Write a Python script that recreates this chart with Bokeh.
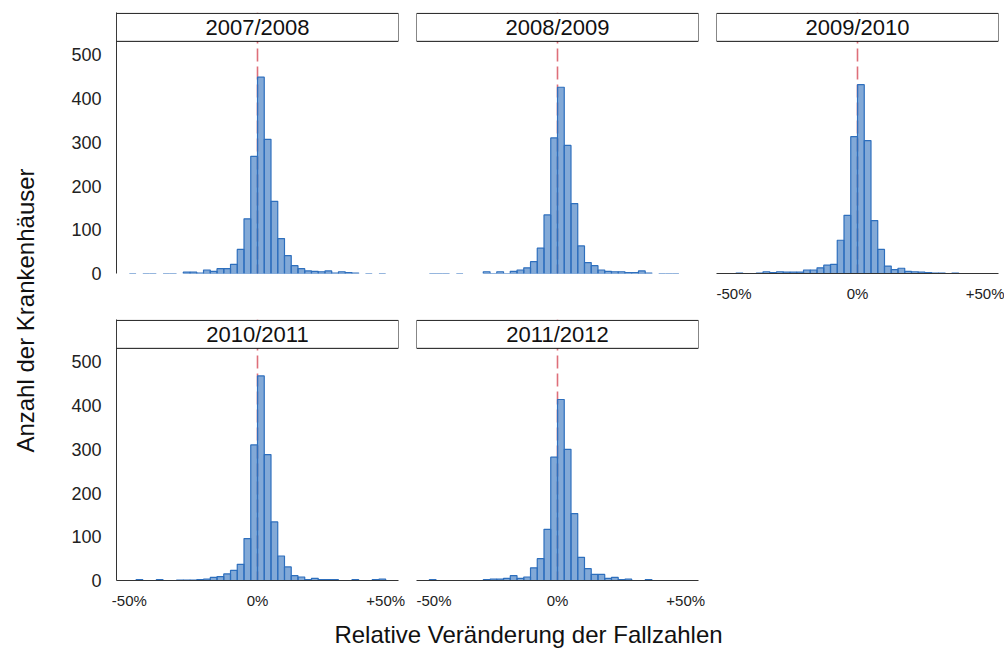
from bokeh.plotting import figure
from bokeh.models import Range1d, FixedTicker, Span, BoxAnnotation, Label, ColumnDataSource
from bokeh.layouts import row, column
from bokeh.embed import file_html
from bokeh.resources import INLINE

# ---------------- data ----------------
SEASONS = ["2007/2008", "2008/2009", "2009/2010", "2010/2011", "2011/2012"]
BIN_INDEX = list(range(-19, 19))          # bin k covers [k*w, (k+1)*w)
BIN_WIDTH = 100 / 38                        # percent
N = None                                    # no bar drawn in that bin

COUNTS_2007_2008 = [0, N, 0, 0, N, 0, 0, N, 3, 3, 1, 8, 5, 11, 11, 21, 55, 125, 268,
                    449, 307, 165, 80, 41, 18, 11, 6, 5, 4, 6, 1, 4, 2, 1, N, 0, N, 0]
COUNTS_2008_2009 = [0, 0, 0, N, 0, N, N, N, 4, 0, 4, 0, 5, 8, 13, 27, 58, 134, 310,
                    426, 293, 160, 63, 25, 18, 8, 5, 4, 4, 2, 2, 6, 1, N, 0, 0, 0, N]
COUNTS_2009_2010 = [0, 1, 0, 0, 1, 4, 2, 4, 3, 3, 3, 8, 8, 13, 19, 21, 76, 133, 313,
                    432, 304, 121, 55, 17, 9, 12, 5, 4, 3, 2, 1, 1, 0, 1, 0, 0, 0, 0]
COUNTS_2010_2011 = [0, 2, 0, 0, 2, 0, 0, 1, 1, 1, 2, 3, 7, 9, 15, 23, 37, 96, 310,
                    468, 288, 134, 56, 31, 11, 8, 2, 5, 2, 2, 2, 0, 0, 2, 0, 0, 2, 3]
COUNTS_2011_2012 = [2, 0, 0, 0, 0, 0, 0, 0, 2, 3, 3, 5, 11, 5, 8, 29, 50, 117, 282,
                    414, 300, 153, 53, 27, 14, 14, 5, 7, 2, 3, 0, 0, 2, 0, 0, 0, 0, 0]
ALL_COUNTS = [COUNTS_2007_2008, COUNTS_2008_2009, COUNTS_2009_2010,
              COUNTS_2010_2011, COUNTS_2011_2012]

X_TICKS = [-50, 0, 50]
X_TICK_LABELS = ["-50%", "0%", "+50%"]
Y_TICKS = [0, 100, 200, 300, 400, 500]
X_TITLE = "Relative Veränderung der Fallzahlen"
Y_TITLE = "Anzahl der Krankenhäuser"
REF_LINE = 0

# ---------------- style / layout ----------------
FONT = "Liberation Sans"
FRAME_W, FRAME_H = 282, 261
X_MIN, X_MAX = -55, 55
PANEL_TOP = 531      # top of data area (y units)
STRIP_TOP = 595
Y_END = 597
BAR_COLOR = "#2E6FBD"
AXIS_COLOR = "#333333"


def make_panel(title, counts, show_x, show_y, left, right, top, bottom):
    p = figure(frame_width=FRAME_W, frame_height=FRAME_H,
               x_range=Range1d(X_MIN, X_MAX), y_range=Range1d(0, Y_END),
               output_backend="svg", toolbar_location=None,
               x_axis_location="below" if show_x else None,
               y_axis_location="left" if show_y else None,
               min_border_left=left, min_border_right=right,
               min_border_top=top, min_border_bottom=bottom)
    p.grid.visible = False
    p.outline_line_color = None
    p.background_fill_color = "white"
    p.border_fill_color = "white"

    p.add_layout(Span(location=REF_LINE, dimension="height", line_color="#CC2233",
                      line_alpha=0.65, line_width=1.6, line_dash="13 5",
                      level="underlay"))

    lefts, rights, tops = [], [], []
    for k, c in zip(BIN_INDEX, counts):
        if c is None:
            continue
        lefts.append(k * BIN_WIDTH)
        rights.append((k + 1) * BIN_WIDTH)
        tops.append(c)
    src = ColumnDataSource(dict(left=lefts, right=rights, top=tops,
                                bottom=[0] * len(tops)))
    p.quad(left="left", right="right", top="top", bottom="bottom", source=src,
           fill_color=BAR_COLOR, fill_alpha=0.6, line_color=BAR_COLOR,
           line_width=1.2)

    p.add_layout(BoxAnnotation(bottom=PANEL_TOP, top=STRIP_TOP, fill_color="white",
                               fill_alpha=1.0, line_color="#111111", line_alpha=1.0,
                               line_width=1))
    p.add_layout(Label(x=(X_MIN + X_MAX) / 2, y=(PANEL_TOP + STRIP_TOP) / 2,
                       text=title, text_align="center", text_baseline="middle",
                       text_font=FONT, text_font_size="22px", text_color="#111111"))

    if show_y:
        ax = p.yaxis[0]
        ax.ticker = FixedTicker(ticks=Y_TICKS)
        ax.major_tick_in = 0
        ax.major_tick_out = 0
        ax.minor_tick_in = 0
        ax.minor_tick_out = 0
        ax.major_tick_line_color = None
        ax.minor_tick_line_color = None
        ax.major_label_standoff = 15
        ax.major_label_text_font = FONT
        ax.major_label_text_font_size = "18px"
        ax.major_label_text_color = "#222222"
        ax.axis_line_color = AXIS_COLOR
        ax.axis_line_width = 1
    if show_x:
        ax = p.xaxis[0]
        ax.ticker = FixedTicker(ticks=X_TICKS)
        ax.major_label_overrides = {t: l for t, l in zip(X_TICKS, X_TICK_LABELS)}
        ax.major_tick_in = 0
        ax.major_tick_out = 0
        ax.minor_tick_in = 0
        ax.minor_tick_out = 0
        ax.major_tick_line_color = None
        ax.minor_tick_line_color = None
        ax.major_label_standoff = 11
        ax.major_label_text_font = FONT
        ax.major_label_text_font_size = "15px"
        ax.major_label_text_color = "#222222"
        ax.axis_line_color = AXIS_COLOR
        ax.axis_line_width = 1
    return p


p1 = make_panel(SEASONS[0], ALL_COUNTS[0], False, True, 68, 18, 12, 42)
p2 = make_panel(SEASONS[1], ALL_COUNTS[1], False, False, 0, 18, 12, 42)
p3 = make_panel(SEASONS[2], ALL_COUNTS[2], True, False, 0, 6, 12, 42)
p4 = make_panel(SEASONS[3], ALL_COUNTS[3], True, True, 68, 18, 4, 28)
p5 = make_panel(SEASONS[4], ALL_COUNTS[4], True, False, 0, 18, 4, 28)


def text_fig(w, h):
    f = figure(frame_width=w, frame_height=h, x_range=Range1d(0, w), y_range=Range1d(0, h),
               output_backend="svg", toolbar_location=None,
               x_axis_location=None, y_axis_location=None,
               min_border_left=0, min_border_right=0, min_border_top=0, min_border_bottom=0)
    f.grid.visible = False
    f.outline_line_color = None
    f.border_fill_color = "white"
    f.background_fill_color = "white"
    return f


xlab = text_fig(956, 40)
xlab.add_layout(Label(x=480, y=17, text=X_TITLE, text_align="center",
                      text_baseline="middle", text_font=FONT,
                      text_font_size="24px", text_color="#111111"))

ylab = text_fig(48, 650)
ylab.add_layout(Label(x=25, y=340, text=Y_TITLE, text_align="center",
                      text_baseline="middle", angle=1.5707963267948966,
                      text_font=FONT, text_font_size="24px", text_color="#111111"))

layout = row(ylab, column(row(p1, p2, p3), row(p4, p5), xlab))

open("out.html", "w").write(file_html(layout, INLINE))
